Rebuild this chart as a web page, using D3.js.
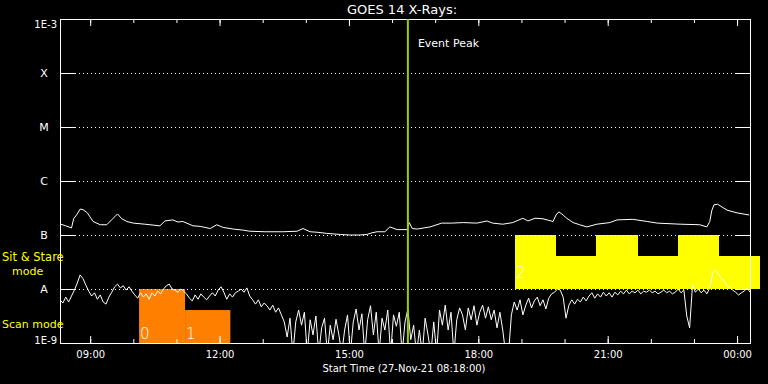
<!DOCTYPE html>
<html><head><meta charset="utf-8">
<script src="https://cdn.jsdelivr.net/npm/d3@7"></script>
<style>
html,body{margin:0;padding:0;background:#000;}
svg{display:block;}
text{font-family:"DejaVu Sans",sans-serif;}
</style>
</head><body>
<svg id="chart" width="768" height="384"></svg>
<script>
// ---------------- data ----------------
const chartTitle = "GOES 14 X-Rays:";
const xAxisTitle = "Start Time (27-Nov-21 08:18:00)";
const startTime = new Date(2021, 10, 27, 8, 18, 0);
const spanMinutes = 960;
const decadeTicks = [1e-9, 1e-8, 1e-7, 1e-6, 1e-5, 1e-4, 1e-3];
const decadeLabels = ["1E-9", "", "", "", "", "", "1E-3"];
const classLevels = [1e-8, 1e-7, 1e-6, 1e-5, 1e-4];
const classLabels = ["A", "B", "C", "M", "X"];
const eventPeakMin = 484;
const eventPeakLabel = "Event Peak";

// long channel (1-8 A): minutes after start, log10 flux (W/m^2)
const longMin = [1,8,16,19,24,28,32,38,46,56,65,74,80,86,93,102,118,139,146,157,164,171,185,195,209,218,227,241,255,264,285,310,330,338,348,359,371,390,403,417,427,434,441,452,459,469,483,486,490,497,515,531,545,561,580,594,602,616,630,644,651,661,672,686,690,694,700,705,714,723,733,747,765,775,797,817,831,863,890,900,904,907,910,915,928,942,959];
const longLog = [-6.80,-6.83,-6.87,-6.70,-6.61,-6.52,-6.53,-6.59,-6.75,-6.81,-6.81,-6.69,-6.61,-6.70,-6.75,-6.78,-6.80,-6.83,-6.74,-6.72,-6.76,-6.75,-6.83,-6.84,-6.88,-6.81,-6.86,-6.89,-6.91,-6.93,-6.94,-6.94,-6.93,-6.88,-6.94,-6.95,-6.97,-6.99,-7.00,-7.00,-6.99,-6.96,-6.94,-6.94,-6.85,-6.90,-6.90,-6.77,-6.88,-6.89,-6.85,-6.78,-6.78,-6.77,-6.78,-6.74,-6.78,-6.80,-6.77,-6.69,-6.74,-6.69,-6.70,-6.75,-6.63,-6.57,-6.63,-6.69,-6.77,-6.81,-6.85,-6.80,-6.77,-6.72,-6.71,-6.75,-6.78,-6.80,-6.81,-6.85,-6.75,-6.54,-6.44,-6.43,-6.54,-6.59,-6.63];

// short channel (0.5-4 A): one sample every 4 minutes from start, log10 flux
const shortStepMin = 4;
const shortLog = [
-8.20,-8.26,-8.15,-8.24,-8.13,-8.02,-7.89,-7.74,-7.81,-7.93,
-8.04,-8.13,-8.07,-8.19,-8.11,-8.24,-8.28,-8.15,-8.06,-7.96,
-7.91,-7.98,-7.94,-8.02,-7.96,-8.04,-8.11,-8.17,-8.07,-8.15,
-8.09,-8.19,-8.07,-8.13,-8.04,-8.09,-8.00,-7.94,-7.91,-8.00,
-8.02,-8.06,-8.00,-8.04,-8.09,-8.17,-8.22,-8.11,-8.19,-8.09,
-8.15,-8.20,-8.13,-8.07,-8.13,-8.02,-7.96,-8.06,-8.19,-8.09,
-8.15,-8.07,-8.04,-8.00,-8.06,-7.98,-8.13,-8.20,-8.28,-8.20,
-8.33,-8.26,-8.31,-8.39,-8.30,-8.43,-8.35,-8.48,-8.61,-8.89,
-8.54,-9.20,-8.61,-8.39,-8.67,-8.43,-9.20,-8.57,-8.85,-8.50,
-9.20,-8.72,-8.54,-9.20,-8.67,-8.94,-8.56,-8.85,-9.20,-8.76,
-8.48,-9.20,-8.61,-8.37,-8.76,-8.46,-9.20,-8.57,-8.31,-8.85,
-8.43,-9.20,-8.54,-8.76,-8.39,-9.20,-8.48,-8.69,-8.43,-9.20,
-8.61,-8.37,-8.94,-8.67,-9.20,-8.76,-9.20,-8.54,-8.85,-9.20,
-8.61,-9.20,-8.39,-8.67,-8.30,-8.76,-8.43,-9.20,-8.57,-8.35,
-8.48,-8.76,-8.35,-8.57,-8.31,-8.67,-8.43,-8.30,-8.54,-8.33,
-8.57,-8.39,-8.72,-8.43,-8.76,-9.20,-9.20,-8.48,-8.24,-8.39,
-8.20,-8.48,-8.30,-8.17,-8.35,-8.22,-8.15,-8.31,-8.20,-8.37,
-8.17,-8.09,-8.06,-8.00,-8.02,-8.15,-8.54,-8.30,-8.20,-8.28,
-8.19,-8.24,-8.15,-8.22,-8.13,-8.07,-8.17,-8.09,-8.15,-8.06,
-8.13,-8.07,-8.15,-8.06,-8.11,-8.04,-8.09,-8.02,-8.09,-8.04,
-8.07,-8.02,-8.09,-8.04,-8.06,-8.02,-8.07,-8.04,-8.09,-8.06,
-8.02,-8.07,-8.04,-8.09,-8.06,-8.00,-8.07,-8.02,-8.50,-8.72,
-7.93,-8.06,-8.00,-8.07,-8.02,-8.09,-7.98,-7.69,-7.65,-7.72,
-7.81,-7.85,-7.93,-7.98,-8.02,-8.06,-8.11,-8.07,-8.04,-7.98,-8.06];

// observing-mode blocks (minutes after start), tops in log10 flux
const scanStartMin = [110, 174];
const scanEndMin = [174, 237];
const scanTopLog = [-8.0, -8.39];
const scanBaseLog = -9.0;
const scanLabels = ["0", "1"];
const stareStartMin = [633, 690, 746, 804, 860, 917];
const stareEndMin = [690, 746, 804, 860, 917, 974];
const stareTopLog = [-7.0, -7.39, -7.0, -7.39, -7.0, -7.39];
const stareBaseLog = -8.0;
const stareLabels = ["2", "", "", "", "", ""];

// ---------------- chart ----------------
const svg = d3.select("#chart");
const L = 60, R = 750, T = 19, B = 343;
const tm = m => new Date(startTime.getTime() + m * 60000);
const x = d3.scaleTime().domain([startTime, tm(spanMinutes)]).range([L, R]);
const y = d3.scaleLog().domain([1e-9, 1e-3]).range([B, T]);
const pw = v => Math.pow(10, v);

svg.append("rect").attr("width", 768).attr("height", 384).attr("fill", "#000");

svg.append("defs").append("clipPath").attr("id", "plotclip")
  .append("rect").attr("x", L).attr("y", T).attr("width", R - L).attr("height", B - T);

// mode blocks
const scanColor = "#ff8000", stareColor = "#ffff00";
const blocks = svg.append("g");
blocks.selectAll("rect.scan").data(scanStartMin).join("rect")
  .attr("x", (d, i) => x(tm(d)))
  .attr("width", (d, i) => x(tm(scanEndMin[i])) - x(tm(d)))
  .attr("y", (d, i) => y(pw(scanTopLog[i])))
  .attr("height", (d, i) => y(pw(scanBaseLog)) - y(pw(scanTopLog[i])))
  .attr("fill", scanColor);
blocks.selectAll("rect.stare").data(stareStartMin).join("rect")
  .attr("x", (d, i) => x(tm(d)))
  .attr("width", (d, i) => x(tm(stareEndMin[i])) - x(tm(d)))
  .attr("y", (d, i) => y(pw(stareTopLog[i])))
  .attr("height", (d, i) => y(pw(stareBaseLog)) - y(pw(stareTopLog[i])))
  .attr("fill", stareColor)
  .attr("shape-rendering", "crispEdges");
blocks.selectAll("text.scanlbl").data(scanStartMin).join("text")
  .attr("x", d => x(tm(d)) + 1).attr("y", y(pw(scanBaseLog)) - 4)
  .attr("fill", "#fff").attr("font-size", 15).attr("font-weight", 300)
  .text((d, i) => scanLabels[i]);
blocks.selectAll("text.starelbl").data(stareStartMin).join("text")
  .attr("x", d => x(tm(d)) + 1).attr("y", y(pw(stareBaseLog)) - 11)
  .attr("fill", "#fff").attr("font-size", 15).attr("font-weight", 300)
  .text((d, i) => stareLabels[i]);

// dotted class grid lines
svg.append("g").selectAll("line").data(classLevels).join("line")
  .attr("x1", L + 15).attr("x2", R - 15)
  .attr("y1", d => Math.round(y(d)) + 0.5).attr("y2", d => Math.round(y(d)) + 0.5)
  .attr("stroke", "#fff").attr("stroke-dasharray", "1,3");

// frame
svg.append("rect").attr("x", L + 0.5).attr("y", T + 0.5)
  .attr("width", R - L).attr("height", B - T)
  .attr("fill", "none").attr("stroke", "#fff");

// x axes
const styleAxis = g => { g.select(".domain").remove(); g.selectAll("line").attr("stroke", "#fff"); g.attr("font-family", null).attr("font-size", null); };
const majorHours = d3.timeHour.every(3).range(startTime, tm(spanMinutes));
svg.append("g").attr("transform", `translate(0,${B})`)
  .call(d3.axisBottom(x).ticks(d3.timeHour.every(1)).tickSize(-4).tickFormat(""))
  .call(styleAxis);
svg.append("g").attr("transform", `translate(0,${B})`)
  .call(d3.axisBottom(x).tickValues(majorHours).tickSize(-7).tickPadding(8).tickFormat(d3.timeFormat("%H:%M")))
  .call(styleAxis)
  .selectAll("text").attr("fill", "#fff").attr("font-size", 10);
svg.append("g").attr("transform", `translate(0,${T})`)
  .call(d3.axisTop(x).ticks(d3.timeHour.every(1)).tickSize(-4).tickFormat(""))
  .call(styleAxis);
svg.append("g").attr("transform", `translate(0,${T})`)
  .call(d3.axisTop(x).tickValues(majorHours).tickSize(-7).tickFormat(""))
  .call(styleAxis);

// y axes
const yl = svg.append("g").attr("transform", `translate(${L},0)`)
  .call(d3.axisLeft(y).tickValues(decadeTicks).tickSize(-15).tickPadding(3).tickFormat((d, i) => decadeLabels[i]))
  .call(styleAxis);
yl.selectAll("text").attr("fill", "#fff").attr("font-size", 10)
  .attr("dy", (d, i) => i === 0 ? "0em" : (i === decadeTicks.length - 1 ? "0.8em" : "0.32em"));
svg.append("g").attr("transform", `translate(${R},0)`)
  .call(d3.axisRight(y).tickValues(decadeTicks).tickSize(-15).tickFormat(""))
  .call(styleAxis);

svg.append("g").selectAll("text").data(classLevels).join("text")
  .attr("x", 44).attr("y", d => y(d) + 4)
  .attr("text-anchor", "middle").attr("fill", "#fff").attr("font-size", 11)
  .text((d, i) => classLabels[i]);

// curves
const line = d3.line().x(d => x(d.t)).y(d => y(d.v));
const longData = longMin.map((m, i) => ({ t: tm(m), v: pw(longLog[i]) }));
const shortData = shortLog.map((v, i) => ({ t: tm(i * shortStepMin), v: pw(v) }));
const curves = svg.append("g").attr("clip-path", "url(#plotclip)");
curves.append("path").datum(longData).attr("d", line)
  .attr("fill", "none").attr("stroke", "#fff").attr("stroke-width", 1);
curves.append("path").datum(shortData).attr("d", line)
  .attr("fill", "none").attr("stroke", "#fff").attr("stroke-width", 1);

// event peak
const ex = x(tm(eventPeakMin));
svg.append("line").attr("x1", ex).attr("x2", ex).attr("y1", T).attr("y2", B)
  .attr("stroke", "#9acd00").attr("stroke-width", 2);
svg.append("text").attr("x", ex + 10).attr("y", 47).attr("fill", "#fff")
  .attr("font-size", 11).text(eventPeakLabel);

// titles
svg.append("text").attr("x", 402).attr("y", 14).attr("text-anchor", "middle")
  .attr("fill", "#fff").attr("font-size", 13).text(chartTitle);
svg.append("text").attr("x", 404).attr("y", 372).attr("text-anchor", "middle")
  .attr("fill", "#fff").attr("font-size", 10).text(xAxisTitle);

// mode labels
const modeText = [["Sit & Stare", 2, 261, 11.5], ["mode", 12, 275, 11], ["Scan mode", 2, 328, 11]];
svg.append("g").selectAll("text").data(modeText).join("text")
  .attr("x", d => d[1]).attr("y", d => d[2])
  .attr("fill", "#ffff00").attr("font-size", d => d[3])
  .text(d => d[0]);
</script>
</body></html>
